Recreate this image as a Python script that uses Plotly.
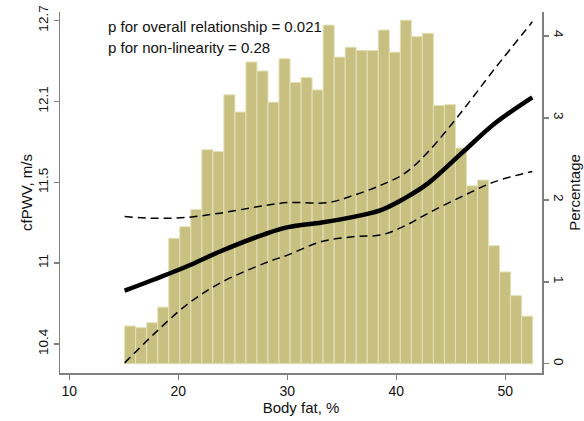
import numpy as np
import plotly.graph_objects as go

# ---------------- data ----------------
# histogram of body fat (% of participants per ~1-unit bin)
bin_start = 15.08
bin_width = 1.0117
bar_pct = [0.46, 0.44, 0.50, 0.69, 1.53, 1.67, 1.88, 2.61, 2.59, 3.28,
           3.07, 3.68, 3.57, 3.19, 3.72, 3.43, 3.49, 3.34, 4.13, 3.74,
           3.86, 3.82, 3.82, 4.07, 3.80, 4.19, 3.99, 4.03, 3.15, 3.16,
           2.63, 2.17, 2.24, 1.44, 1.12, 0.83, 0.58]

# restricted cubic spline estimate and 95% CI (cfPWV, m/s)
fit_x = [15.08, 17.71, 20.77, 23.83, 27.95, 30.09, 33.16, 36.21, 38.66,
         40.80, 42.94, 46.00, 49.06, 52.48]
fit_y = [10.748, 10.821, 10.910, 11.012, 11.131, 11.179, 11.211, 11.252,
         11.299, 11.381, 11.487, 11.702, 11.920, 12.113]

upper_x = [15.08, 18.05, 20.77, 23.83, 27.95, 30.09, 33.76, 36.21, 38.66,
           40.80, 42.94, 46.00, 49.06, 52.48]
upper_y = [11.252, 11.240, 11.246, 11.276, 11.329, 11.350, 11.350, 11.404,
           11.475, 11.558, 11.713, 12.006, 12.332, 12.692]

lower_x = [15.08, 17.71, 20.77, 23.83, 27.95, 30.09, 33.16, 36.21, 38.66,
           40.80, 42.94, 46.00, 49.06, 52.48]
lower_y = [10.279, 10.460, 10.655, 10.799, 10.933, 10.989, 11.080, 11.114,
           11.126, 11.188, 11.276, 11.392, 11.498, 11.570]

x_ticks = [10, 20, 30, 40, 50]
left_tickvals = [10.4, 10.933, 11.493, 12.083, 12.702]
left_ticktext = ["10.4", "11", "11.5", "12.1", "12.7"]
right_ticks = [0, 1, 2, 3, 4]

annot_lines = ["p for overall relationship = 0.021",
               "p for non-linearity = 0.28"]

# ---------------- figure ----------------
FONT = "Liberation Sans, Arial, Helvetica, sans-serif"
AX = "#808080"
BAR = "rgb(199,192,128)"
BAR_EDGE = "rgb(228,224,182)"

bar_x = [bin_start + bin_width * (i + 0.5) for i in range(len(bar_pct))]

fig = go.Figure()
fig.add_trace(go.Bar(x=bar_x, y=bar_pct, width=bin_width, yaxis="y",
                     marker=dict(color=BAR, line=dict(color=BAR_EDGE, width=1)),
                     showlegend=False))
fig.add_trace(go.Scatter(x=upper_x, y=upper_y, yaxis="y2", mode="lines",
                         line=dict(color="black", width=1.5, dash="8px,5px",
                                   shape="spline"), showlegend=False))
fig.add_trace(go.Scatter(x=lower_x, y=lower_y, yaxis="y2", mode="lines",
                         line=dict(color="black", width=1.5, dash="8px,5px",
                                   shape="spline"), showlegend=False))
fig.add_trace(go.Scatter(x=fit_x, y=fit_y, yaxis="y2", mode="lines",
                         line=dict(color="black", width=4.5, shape="spline"),
                         showlegend=False))

tickfont = dict(family=FONT, size=14, color="#111")
ytickfont = dict(family=FONT, size=13.5, color="#111")
titlefont = dict(family=FONT, size=15, color="#111")

fig.update_layout(
    width=584, height=421,
    margin=dict(l=60, r=42, t=12, b=48, autoexpand=False),
    paper_bgcolor="white", plot_bgcolor="white",
    bargap=0,
    font=dict(family=FONT, size=14, color="#111"),
    xaxis=dict(range=[9.15, 53.37], tickvals=x_ticks, showgrid=False,
               zeroline=False, showline=True, linecolor=AX, linewidth=1.5,
               ticks="outside", ticklen=5, tickcolor=AX, tickwidth=1.5,
               tickfont=tickfont, ticklabeloverflow="allow",
               title=dict(text="Body fat, %", font=titlefont, standoff=2)),
    yaxis=dict(side="right", range=[-0.113, 4.29], tickvals=right_ticks,
               tickangle=90, showgrid=False, zeroline=False, showline=True,
               linecolor=AX, linewidth=1.5, ticks="outside", ticklen=5,
               tickcolor=AX, tickwidth=1.5, tickfont=ytickfont,
               ticklabeloverflow="allow",
               title=dict(text="Percentage", font=titlefont, standoff=2)),
    yaxis2=dict(overlaying="y", side="left", type="log",
                range=[np.log10(10.215), np.log10(12.769)],
                tickvals=left_tickvals, ticktext=left_ticktext, tickangle=-90,
                showgrid=False, zeroline=False, showline=True, linecolor=AX,
                linewidth=1.5, ticks="outside", ticklen=5, tickcolor=AX,
                tickwidth=1.5, tickfont=ytickfont, ticklabeloverflow="allow",
                title=dict(text="cfPWV, m/s", font=titlefont, standoff=0)),
)

for i, txt in enumerate(annot_lines):
    fig.add_annotation(text=txt, xref="paper", yref="paper",
                       x=0.0955, y=[0.9593, 0.9023][i], xanchor="left",
                       yanchor="middle", showarrow=False,
                       font=dict(family=FONT, size=15, color="#111"))

# remove the browser's default 8px page margin so the chart fills the window
fig.write_html("out.html",
               config={"displayModeBar": False, "staticPlot": True},
               post_script="document.body.style.margin='0px';"
                           "document.body.style.overflow='hidden';")
